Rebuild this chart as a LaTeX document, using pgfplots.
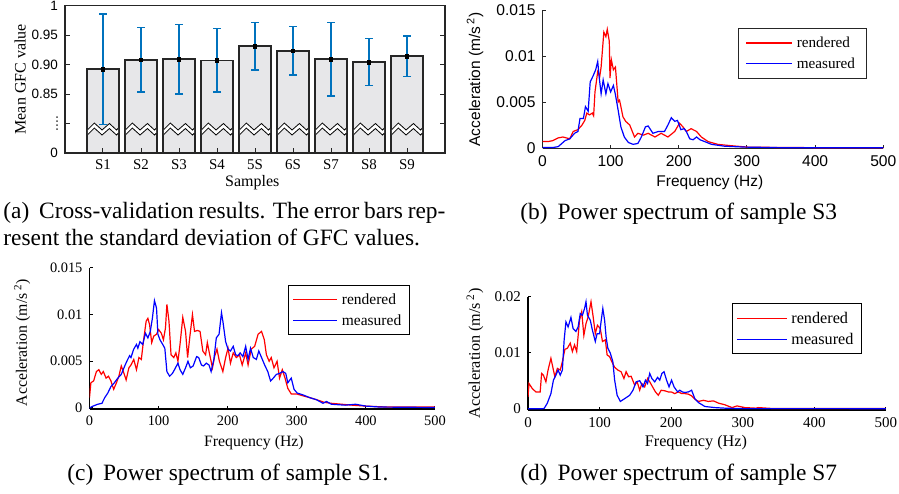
\documentclass[border=0pt]{standalone}
\usepackage{fontspec}
\setmainfont{Liberation Serif}
\newfontfamily\arial{Liberation Sans}
\usepackage{pgfplots}
\pgfplotsset{compat=1.18}
\usepackage{pgfplotstable}
\definecolor{mblue}{RGB}{0,114,189}
\definecolor{axgray}{RGB}{38,38,38}
\definecolor{barfill}{RGB}{231,231,233}
\newcommand{\fs}[1]{\fontsize{#1}{#1}\selectfont}

\pgfplotstableread{
x m e
0 0.892 0.094
1 0.908 0.055
2 0.909 0.059
3 0.907 0.054
4 0.931 0.040
5 0.923 0.041
6 0.909 0.062
7 0.904 0.040
8 0.914 0.034
}\dataA

\pgfplotstableread{
f v
0 0.0007
8 0.0007
15 0.0008
23 0.0011
30 0.0012
35 0.0011
40 0.0010
45 0.0018
52 0.0020
58 0.0025
62 0.0030
65 0.0038
69 0.0036
73 0.0038
75 0.0035
77 0.0061
81 0.0083
84 0.0078
86 0.0088
90 0.0126
93 0.0121
95 0.0129
98 0.0116
99 0.0076
101 0.0096
104 0.0085
107 0.0088
111 0.0050
113 0.0052
115 0.0045
118 0.0034
122 0.0029
128 0.0025
135 0.0012
140 0.0016
148 0.0014
155 0.0016
165 0.0012
174 0.0016
184 0.0012
194 0.0018
201 0.0027
206 0.0023
211 0.0018
218 0.0021
226 0.0018
233 0.0012
243 0.0007
257 0.0004
277 0.00025
301 0.0001
350 0.00006
400 0.00004
450 0.00003
500 0.00003
}\dataBr

\pgfplotstableread{
f v
0 0.00005
15 0.00005
23 0.00015
33 0.0008
40 0.0010
47 0.0016
52 0.0018
55 0.0032
60 0.0032
63 0.0045
67 0.0040
70 0.0072
74 0.0078
78 0.0085
81 0.0094
83 0.0078
86 0.0059
89 0.0074
93 0.0059
96 0.0070
100 0.0061
104 0.0068
107 0.0058
111 0.0041
115 0.0023
120 0.0012
126 0.0006
133 0.0004
140 0.0005
145 0.0012
151 0.0023
155 0.0024
162 0.0016
170 0.0018
179 0.0018
184 0.0025
189 0.0033
194 0.0029
198 0.0030
203 0.0020
208 0.0021
211 0.0018
216 0.0010
221 0.0009
226 0.0012
231 0.0009
238 0.0007
248 0.0004
267 0.0002
297 0.0001
350 0.00004
400 0.00003
500 0.00003
}\dataBb

\pgfplotstableread{
f v
0 0.0011
2 0.0027
6 0.0029
10 0.0039
13.5 0.0041
17 0.0036
20 0.0039
24 0.0032
27.5 0.0034
31 0.0029
35 0.0020
39 0.0027
42.5 0.0034
46 0.0045
49 0.0039
53 0.0030
57 0.0043
60 0.0046
64 0.0052
68 0.0041
71.5 0.0054
75 0.0052
78 0.0071
82 0.0093
84.5 0.0096
87 0.0089
90 0.0070
93 0.0077
97 0.0079
100 0.0084
104 0.0080
107 0.0073
110 0.0086
112 0.0111
115 0.0093
118 0.0057
122 0.0054
125 0.0059
128 0.0050
131 0.0068
135 0.0097
139 0.0082
142 0.0054
145 0.0075
149 0.0100
152 0.0082
156 0.0083
160 0.0082
164 0.0061
168 0.0057
170.5 0.0070
174 0.0057
178 0.0043
181 0.0055
184.5 0.0063
188 0.0050
193 0.0039
197 0.0054
200.5 0.0064
204 0.0048
208 0.0059
212.5 0.0054
217 0.0057
221 0.0046
226 0.0059
229.5 0.0046
234 0.0063
239 0.0066
244 0.0079
249 0.0082
253 0.0073
256 0.0057
260 0.0050
263 0.0054
267 0.0043
271.5 0.0050
275 0.0032
279 0.0041
283 0.0032
287 0.0021
292 0.0015
300 0.0015
309 0.0013
319 0.0011
328 0.0009
340 0.0006
350 0.0005
365 0.0004
380 0.0003
400 0.0002
430 0.0001
460 0.0001
500 0.0001
}\dataCr

\pgfplotstableread{
f v
0 0.0000
5 0.0002
12 0.0004
18 0.0005
22 0.0011
26.5 0.0016
31 0.0023
36 0.0027
41 0.0032
46 0.0036
51 0.0045
54 0.0050
58 0.0056
60 0.0054
64 0.0063
68 0.0068
70 0.0064
73 0.0071
77 0.0068
81 0.0080
84.5 0.0075
88 0.0082
91 0.0096
94 0.0115
97 0.0107
99 0.0079
102 0.0073
106 0.0068
109 0.0064
112 0.0039
116 0.0034
120 0.0037
123 0.0041
128 0.0048
131 0.0041
135 0.0036
139 0.0043
142.5 0.0050
146 0.0043
150 0.0045
155 0.0055
158 0.0054
162 0.0046
165 0.0045
169 0.0048
173 0.0046
176 0.0039
180 0.0052
183.5 0.0075
187.5 0.0079
191 0.0102
193 0.0093
197 0.0071
200.5 0.0063
204 0.0061
208 0.0066
211.5 0.0057
215 0.0056
218 0.0059
222 0.0055
226 0.0066
229.5 0.0052
233 0.0064
237 0.0054
241.5 0.0052
245 0.0061
249 0.0054
253.5 0.0046
258 0.0039
262 0.0029
266 0.0032
270.5 0.0036
275 0.0037
280 0.0039
284 0.0037
287 0.0027
292 0.0032
296 0.0020
300.5 0.0016
309 0.0014
319 0.0011
328 0.0009
338 0.0005
343 0.0007
350 0.0004
370 0.0003
385 0.0004
400 0.0002
420 0.0001
500 0.00005
}\dataCb

\pgfplotstableread{
f v
0 0.0021
1.4 0.0045
6 0.0036
11 0.0030
17 0.0030
19 0.0063
21.5 0.0060
25 0.0048
28 0.0069
32 0.0090
34 0.0078
37.5 0.0057
41 0.0072
45 0.0069
48 0.0084
51.5 0.0106
55 0.0108
59 0.0117
62 0.0102
65 0.0114
68 0.0102
72 0.0158
75 0.0173
78 0.0131
81 0.0152
84 0.0164
88 0.0191
91 0.0164
94 0.0134
97 0.0149
101 0.0143
104 0.0120
108 0.0123
110.5 0.0096
114 0.0093
117 0.0084
121 0.0074
125.5 0.0069
130 0.0066
134 0.0054
137 0.0066
140.5 0.0057
144 0.0058
149 0.0042
152.5 0.0048
156 0.0033
159 0.0045
163 0.0039
167 0.0054
170 0.0048
174 0.0039
178 0.0030
182 0.0024
186 0.0033
191 0.0032
196 0.0030
200 0.0030
205 0.0027
210 0.0030
214.5 0.0027
219 0.0027
224 0.0026
228.5 0.0023
233 0.0017
238 0.0013
245 0.0015
252 0.0013
259 0.0014
266 0.0010
275 0.0007
285 0.0002
292 0.0005
303 0.0002
318 0.0001
322 0.0002
340 0.00005
400 0.00003
500 0.00003
}\dataDr

\pgfplotstableread{
f v
0 0.0000
18 0.0000
22.5 0.00003
27 0.0010
32 0.0027
35.5 0.0051
39 0.0060
42 0.0069
45 0.0060
48 0.0069
50.5 0.0123
53 0.0155
56 0.0146
60 0.0163
63 0.0143
67 0.0138
70 0.0146
73 0.0170
76 0.0167
79 0.0179
81 0.0191
83 0.0167
87 0.0158
90 0.0140
94 0.0120
96.5 0.0134
100 0.0134
102 0.0155
104.5 0.0179
107 0.0158
109 0.0129
111.5 0.0108
115 0.0099
118.5 0.0084
121 0.0051
124.5 0.0024
129 0.0013
135 0.0018
142 0.0024
146.6 0.0033
151 0.0048
156 0.0050
160.6 0.0039
164 0.0051
167 0.0045
170 0.0063
173 0.0054
177 0.0048
181 0.0056
184 0.0051
187 0.0063
190 0.0066
193.5 0.0051
197 0.0039
200.5 0.0051
204 0.0039
209 0.0030
212 0.0033
215.5 0.0030
219 0.0029
224 0.0030
228.5 0.0033
233 0.0018
238 0.0011
247 0.0004
261 0.0002
275 0.0001
300 0.00002
500 0.00001
}\dataDb

\begin{document}
\begin{tikzpicture}
\useasboundingbox (0,0) rectangle (449.5pt,-246.5pt);

% ---------------- (a)
\begin{axis}[at={(32.5pt,-76.5pt)}, anchor=south west, scale only axis,
  width=190pt, height=73.75pt,
  xmin=-1, xmax=9, ymin=0.75, ymax=1,
  xtick={0,...,8}, xticklabels={S1,S2,S3,S4,5S,6S,S7,S8,S9},
  ytick={0.75,0.8,0.85,0.9,0.95,1},
  yticklabels={0,{\rotatebox{90}{....}},0.85,0.90,0.95,1},
  xtick pos=left, ytick pos=both, tick align=inside, major tick length=2.5pt,
  axis on top,
  axis line style={line width=0.9pt, axgray},
  every tick/.style={axgray, line width=0.5pt},
  x tick label style={font=\fs{7.45}},
  y tick label style={font=\arial\fs{6.75}},
  xlabel={Samples}, ylabel={Mean GFC value},
  label style={font=\fs{8}},
  x label style={at={(axis description cs:0.493,-0.203)}, anchor=center},
  y label style={at={(axis description cs:-0.118,0.5)}, anchor=center},
]
\addplot[ybar, bar width=0.845, fill=barfill, draw=axgray, line width=0.75pt]
  table[x=x, y=m] {\dataA};
\pgfplotsinvokeforeach{0,...,8}{
  \fill[white] (axis cs:#1-0.40,0.7898) -- (axis cs:#1-0.228,0.8008) -- (axis cs:#1-0.025,0.7890)
     -- (axis cs:#1+0.169,0.8000) -- (axis cs:#1+0.355,0.7890) -- (axis cs:#1+0.40,0.7920)
     -- (axis cs:#1+0.40,0.7835) -- (axis cs:#1+0.355,0.7805) -- (axis cs:#1+0.169,0.7915)
     -- (axis cs:#1-0.025,0.7805) -- (axis cs:#1-0.228,0.7923) -- (axis cs:#1-0.40,0.7813) -- cycle;
  \draw[black, line width=0.4pt] (axis cs:#1-0.40,0.7898) -- (axis cs:#1-0.228,0.8008) -- (axis cs:#1-0.025,0.7890)
     -- (axis cs:#1+0.169,0.8000) -- (axis cs:#1+0.355,0.7890) -- (axis cs:#1+0.40,0.7920);
  \draw[black, line width=0.4pt] (axis cs:#1-0.40,0.7813) -- (axis cs:#1-0.228,0.7923) -- (axis cs:#1-0.025,0.7805)
     -- (axis cs:#1+0.169,0.7915) -- (axis cs:#1+0.355,0.7805) -- (axis cs:#1+0.40,0.7835);
}
\addplot[only marks, mark=square*, mark size=0.9pt, black,
  error bars/.cd, y dir=both, y explicit,
  error bar style={line width=0.75pt, mblue},
  error mark options={rotate=90, mblue, mark size=2pt, line width=0.75pt}]
  table[x=x, y=m, y error=e] {\dataA};
\end{axis}

% ---------------- (b)
\begin{axis}[at={(271.25pt,-74.15pt)}, anchor=south west, scale only axis,
  width=170.4pt, height=69.15pt,
  xmin=0, xmax=500, ymin=-0.00003, ymax=0.015,
  axis lines=left, axis line style={-, axgray, line width=0.7pt},
  every tick/.style={axgray, line width=0.5pt},
  tick align=inside, major tick length=1.7pt,
  xtick={0,100,200,300,400,500}, xticklabels={0,100,200,300,400,500},
  ytick={0,0.005,0.01,0.015}, yticklabels={0,0.005,0.01,0.015},
  scaled y ticks=false,
  tick label style={font=\arial\fs{7.8}},
  label style={font=\arial\fs{7.75}},
  xlabel={Frequency (Hz)}, ylabel={Acceleration (m/s\,\textsuperscript{2})},
  x label style={at={(axis description cs:0.491,-0.249)}, anchor=center},
  y label style={at={(axis description cs:-0.198,0.5)}, anchor=center},
  legend style={at={(0.574,0.872)}, anchor=north west, draw=axgray, line width=0.5pt,
    font=\fs{7.6}, inner xsep=3.5pt, inner ysep=3.5pt, row sep=2.5pt,
    nodes={inner xsep=2pt, inner ysep=1pt, text height=5.3pt, text depth=0.5pt}},
  legend cell align=left,
  legend image code/.code={\draw[#1] (0pt,0pt) -- (23pt,0pt);},
]
\addplot[red, line width=0.6pt] table[x=f, y=v] {\dataBr};
\addplot[blue, line width=0.6pt] table[x=f, y=v] {\dataBb};
\legend{rendered, measured}
\end{axis}

% ---------------- (c)
\begin{axis}[at={(44.75pt,-204.45pt)}, anchor=south west, scale only axis,
  width=172.75pt, height=70.5pt,
  xmin=0, xmax=500, ymin=-0.0001, ymax=0.015,
  axis lines=left, axis line style={-, black, line width=0.6pt},
  every tick/.style={black, line width=0.5pt},
  tick align=inside, major tick length=1.6pt,
  xtick={0,100,200,300,400,500}, xticklabels={0,100,200,300,400,500},
  ytick={0,0.005,0.01,0.015}, yticklabels={0,0.005,0.01,0.015},
  scaled y ticks=false,
  tick label style={font=\fs{7.2}},
  label style={font=\fs{7.9}},
  xlabel={Frequency (Hz)}, ylabel={Acceleration (m/s\,\textsuperscript{2})},
  x label style={at={(axis description cs:0.476,-0.242)}, anchor=center},
  y label style={at={(axis description cs:-0.195,0.47)}, anchor=center},
  legend style={at={(0.575,0.879)}, anchor=north west, draw=black, line width=0.5pt,
    font=\fs{7.75}, inner xsep=2pt, inner ysep=3.2pt, row sep=2.5pt,
    nodes={inner xsep=2pt, inner ysep=1pt, text height=5.3pt, text depth=0.5pt}},
  legend cell align=left,
  legend image code/.code={\draw[#1] (0pt,0pt) -- (22pt,0pt);},
]
\addplot[red, line width=0.6pt] table[x=f, y=v] {\dataCr};
\addplot[blue, line width=0.6pt] table[x=f, y=v] {\dataCb};
\legend{rendered, measured}
\end{axis}

% ---------------- (d)
\begin{axis}[at={(264pt,-205pt)}, anchor=south west, scale only axis,
  width=179pt, height=56.65pt,
  xmin=0, xmax=500, ymin=-0.00023, ymax=0.02,
  axis lines=left, axis line style={-, black, line width=0.6pt},
  every tick/.style={black, line width=0.5pt},
  tick align=inside, major tick length=1.6pt,
  xtick={0,100,200,300,400,500}, xticklabels={0,100,200,300,400,500},
  ytick={0,0.01,0.02}, yticklabels={0,0.01,0.02},
  scaled y ticks=false,
  tick label style={font=\fs{7.5}},
  label style={font=\fs{8.1}},
  xlabel={Frequency (Hz)}, ylabel={Acceleration (m/s\,\textsuperscript{2})},
  x label style={at={(axis description cs:0.469,-0.291)}, anchor=center},
  y label style={at={(axis description cs:-0.148,0.5)}, anchor=center},
  legend style={at={(0.569,0.942)}, anchor=north west, draw=black, line width=0.5pt,
    font=\fs{8.1}, inner xsep=2pt, inner ysep=3.2pt, row sep=2.5pt,
    nodes={inner xsep=2pt, inner ysep=1pt, text height=5.6pt, text depth=0.5pt}},
  legend cell align=left,
  legend image code/.code={\draw[#1] (0pt,0pt) -- (25pt,0pt);},
]
\addplot[red, line width=0.6pt] table[x=f, y=v] {\dataDr};
\addplot[blue, line width=0.6pt] table[x=f, y=v] {\dataDb};
\legend{rendered, measured}
\end{axis}

% ---------------- captions
\node[anchor=west, inner sep=0pt, font=\fs{11.7}] at (1.5pt,-106.5pt)
  {\makebox[221pt][s]{(a)\hskip0.42em Cross-validation results. The error bars rep-}};
\node[anchor=west, inner sep=0pt, font=\fs{11.7}] at (1.5pt,-118.5pt)
  {resent the standard deviation of GFC values.};
\node[anchor=west, inner sep=0pt, font=\fs{11.7}] at (260pt,-107pt)
  {(b)\hskip0.42em Power spectrum of sample S3};
\node[anchor=west, inner sep=0pt, font=\fs{11.7}] at (33.5pt,-237.5pt)
  {(c)\hskip0.42em Power spectrum of sample S1.};
\node[anchor=west, inner sep=0pt, font=\fs{11.7}] at (260pt,-237.5pt)
  {(d)\hskip0.42em Power spectrum of sample S7};
\end{tikzpicture}
\end{document}
